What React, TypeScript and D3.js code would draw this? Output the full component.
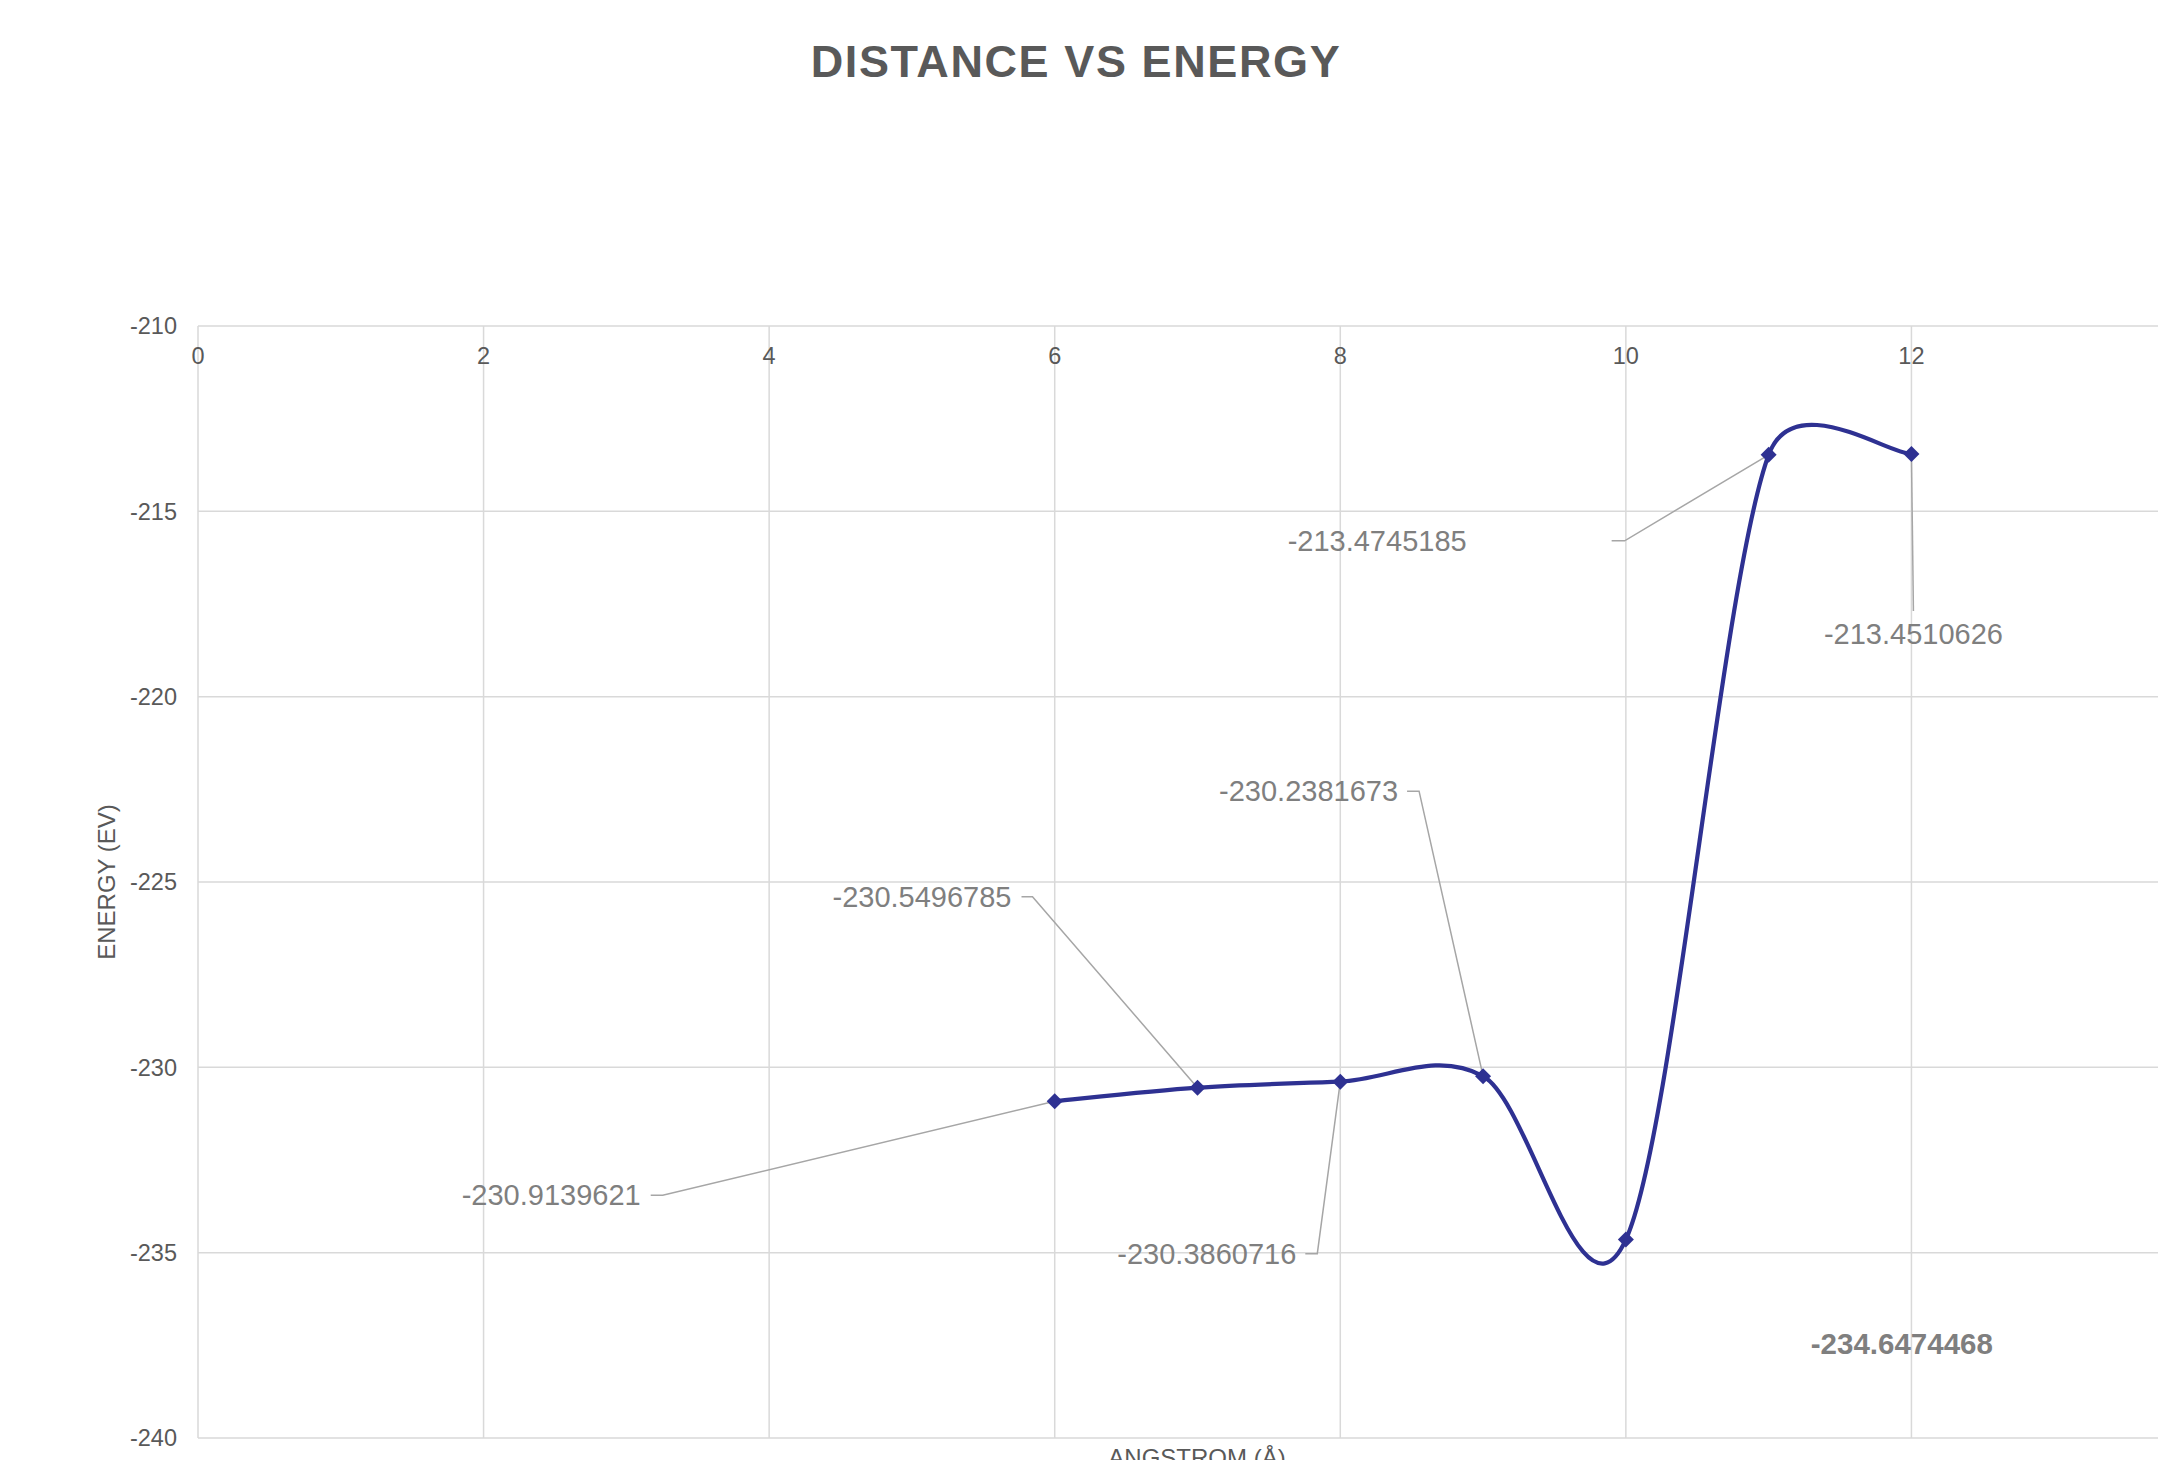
import React from "react";
import * as d3 from "d3";

const distances = [6, 7, 8, 9, 10, 11, 12];
const energies = [-230.9139621, -230.5496785, -230.3860716, -230.2381673, -234.6474468, -213.4745185, -213.4510626];
const labelTexts = ["-230.9139621", "-230.5496785", "-230.3860716", "-230.2381673", "-234.6474468", "-213.4745185", "-213.4510626"];
const xTicks = [0, 2, 4, 6, 8, 10, 12, 14];
const xTickLabels = [0, 2, 4, 6, 8, 10, 12];
const yTicks = [-210, -215, -220, -225, -230, -235, -240];
const title = "DISTANCE VS ENERGY";
const xTitle = "ANGSTROM (Å)";
const yTitle = "ENERGY (EV)";

// label placement relative to its point (pixels)
const labelPlacement = [
  { kind: "left", dx: -414, dy: 94, h0: 10, h1: 22 },
  { kind: "left", dx: -186, dy: -191, h0: 10, h1: 21 },
  { kind: "left", dx: -44, dy: 172, h0: 9, h1: 21 },
  { kind: "left", dx: -85, dy: -285, h0: 9, h1: 21 },
  { kind: "bold", dx: 276, dy: 104 },
  { kind: "left", dx: -302, dy: 86, h0: 145, h1: 158 },
  { kind: "below", dx: 2, dy: 180, lead: 157 },
];

const W = 2158;
const H = 1460;
const FONT = "'Liberation Sans', Arial, sans-serif";

// Excel-style smoothed line: Bezier segments with 1/6 tangent factor, control distance capped at half the segment
function excelSmooth(p: [number, number][]): string {
  const n = p.length;
  if (n < 2) return "";
  const dist = (a: [number, number], b: [number, number]) => Math.hypot(b[0] - a[0], b[1] - a[1]);
  const path = d3.path();
  path.moveTo(p[0][0], p[0][1]);
  for (let i = 0; i < n - 1; i++) {
    const p0 = p[Math.max(0, i - 1)];
    const p1 = p[i];
    const p2 = p[i + 1];
    const p3 = p[Math.min(n - 1, i + 2)];
    const d12 = dist(p1, p2);
    const d02 = dist(p0, p2);
    const d13 = dist(p1, p3);
    let f1 = 1 / 6;
    if (d02 / 6 > d12 / 2 && d02 > 0) f1 = d12 / 2 / d02;
    let f2 = 1 / 6;
    if (d13 / 6 > d12 / 2 && d13 > 0) f2 = d12 / 2 / d13;
    const c1x = p1[0] + f1 * (p2[0] - p0[0]);
    const c1y = p1[1] + f1 * (p2[1] - p0[1]);
    const c2x = p2[0] - f2 * (p3[0] - p1[0]);
    const c2y = p2[1] - f2 * (p3[1] - p1[1]);
    path.bezierCurveTo(c1x, c1y, c2x, c2y, p2[0], p2[1]);
  }
  return path.toString();
}

export default function App() {
  const x = d3.scaleLinear().domain([0, 14]).range([198, 2197]);
  const y = d3.scaleLinear().domain([-240, -210]).range([1438, 326]);
  const pts: [number, number][] = distances.map((d, i) => [x(d), y(energies[i])]);
  const line = excelSmooth(pts);
  const diamond = d3.symbol(d3.symbolSquare, 128)() || "";

  return (
    <svg width={W} height={H} style={{ position: "absolute", left: 0, top: 0, background: "#fff" }} fontFamily={FONT}>
      <rect x={0} y={0} width={W} height={H} fill="#fff" />
      <text x={1076} y={77} textAnchor="middle" fontSize={45} fontWeight="bold" fill="#595959" letterSpacing={1.6}>
        {title}
      </text>
      {yTicks.map((t) => (
        <line key={"gy" + t} x1={x(0)} x2={W} y1={y(t)} y2={y(t)} stroke="#d9d9d9" strokeWidth={1.5} />
      ))}
      {xTicks.map((t) => (
        <line key={"gx" + t} x1={x(t)} x2={x(t)} y1={y(-210)} y2={y(-240)} stroke="#d9d9d9" strokeWidth={1.5} />
      ))}
      {yTicks.map((t) => (
        <text key={"ty" + t} x={177} y={y(t)} dy="0.35em" textAnchor="end" fontSize={23.5} fill="#595959">
          {t}
        </text>
      ))}
      {xTickLabels.map((t) => (
        <text key={"tx" + t} x={x(t)} y={356} dy="0.35em" textAnchor="middle" fontSize={23.5} fill="#595959">
          {t}
        </text>
      ))}
      <text transform={`translate(107, ${(y(-210) + y(-240)) / 2}) rotate(-90)`} dy="0.35em" textAnchor="middle" fontSize={24} fill="#595959">
        {yTitle}
      </text>
      <text x={1197} y={1466} textAnchor="middle" fontSize={24} fill="#595959">
        {xTitle}
      </text>
      {pts.map((p, i) => {
        const lp = labelPlacement[i];
        if (lp.kind === "left") {
          const ty = p[1] + lp.dy;
          const d = `M${p[0] + lp.dx + lp.h0},${ty}L${p[0] + lp.dx + lp.h1},${ty}L${p[0]},${p[1]}`;
          return <path key={"ld" + i} d={d} fill="none" stroke="#a6a6a6" strokeWidth={1.5} />;
        }
        if (lp.kind === "below") {
          return <line key={"ld" + i} x1={p[0]} y1={p[1]} x2={p[0] + lp.dx} y2={p[1] + lp.lead} stroke="#a6a6a6" strokeWidth={1.5} />;
        }
        return null;
      })}
      <path d={line} fill="none" stroke="#2E3192" strokeWidth={4.2} />
      {pts.map((p, i) => (
        <path key={"m" + i} d={diamond} transform={`translate(${p[0]},${p[1]}) rotate(45)`} fill="#2E3192" />
      ))}
      {pts.map((p, i) => {
        const lp = labelPlacement[i];
        const anchor = lp.kind === "left" ? "end" : "middle";
        const bold = lp.kind === "bold";
        return (
          <text
            key={"lb" + i}
            x={p[0] + lp.dx}
            y={p[1] + lp.dy}
            dy="0.35em"
            textAnchor={anchor}
            fontSize={bold ? 29.5 : 29}
            fontWeight={bold ? "bold" : "normal"}
            fill="#7f7f7f"
          >
            {labelTexts[i]}
          </text>
        );
      })}
    </svg>
  );
}
